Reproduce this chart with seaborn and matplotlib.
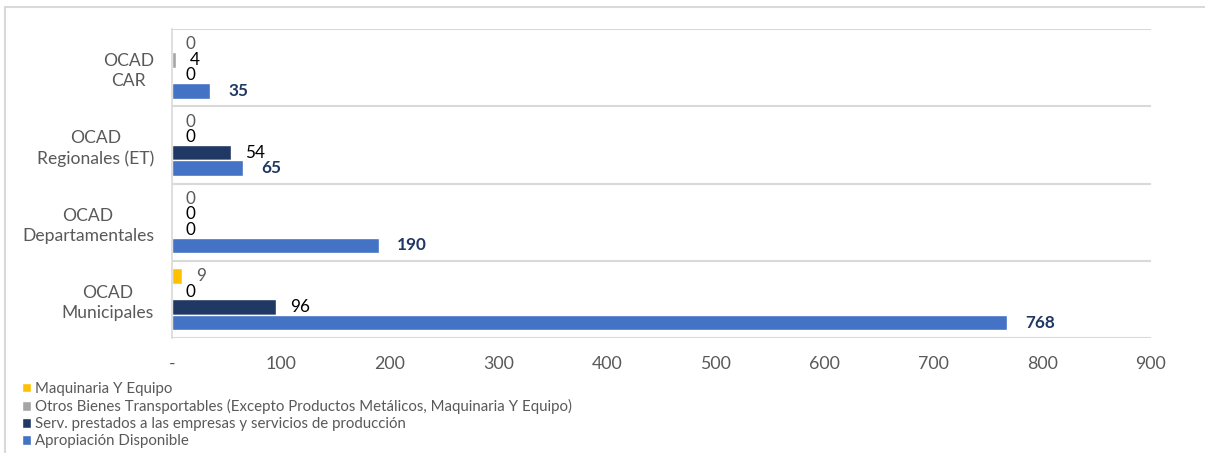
import matplotlib
matplotlib.use("Agg")
import matplotlib.pyplot as plt
import seaborn as sns
import pandas as pd
import numpy as np
from matplotlib.lines import Line2D
from matplotlib.ticker import FixedLocator, FuncFormatter

categories = ["OCAD\nCAR", "OCAD\nRegionales (ET)", "OCAD\nDepartamentales", "OCAD\nMunicipales"]
series = [
    "Maquinaria Y Equipo",
    "Otros Bienes Transportables (Excepto Productos Metálicos, Maquinaria Y Equipo)",
    "Serv. prestados a las empresas y servicios de producción",
    "Apropiación Disponible",
]
maquinaria = [0, 0, 0, 9]
otros = [4, 0, 0, 0]
serv = [0, 54, 0, 96]
apropiacion = [35, 65, 190, 768]
colors = ["#FFC000", "#A5A5A5", "#203864", "#4472C4"]
x_ticks = [0, 100, 200, 300, 400, 500, 600, 700, 800, 900]

values = [maquinaria, otros, serv, apropiacion]
rows = []
for s, vals in zip(series, values):
    for c, v in zip(categories, vals):
        rows.append({"cat": c, "serie": s, "valor": v})
df = pd.DataFrame(rows)

sns.set_style("white")
plt.rcParams["font.family"] = ["Lato", "DejaVu Sans"]

fig = plt.figure(figsize=(12.05, 4.53), dpi=100)
ax = fig.add_axes([172/1205, 1-338/453, (1151-172)/1205, (338-29)/453])

sns.barplot(data=df, y="cat", x="valor", hue="serie", order=categories,
            hue_order=series, palette=colors, orient="h", width=0.8,
            saturation=1, ax=ax, legend=True, errorbar=None)

label_colors = ["#595959", "#000000", "#000000", "#1F3864"]
for i, cont in enumerate(ax.containers):
    bold = (i == 3)
    ax.bar_label(cont, labels=[f"{v:g}" for v in cont.datavalues],
                 padding=13 if bold else 10, fontsize=12.3,
                 color=label_colors[i], fontweight="bold" if bold else "normal")

ax.set_xlim(0, 900)
ax.set_ylim(len(categories) - 0.5, -0.5)
ax.set_xticks(x_ticks)
ax.xaxis.set_major_formatter(FuncFormatter(lambda v, p: "-" if v == 0 else f"{v:.0f}"))
ax.yaxis.set_minor_locator(FixedLocator(np.arange(len(categories) + 1) - 0.5))
ax.grid(which="minor", axis="y", color="#D9D9D9", linewidth=1.5)
ax.grid(which="major", visible=False)
ax.set_axisbelow(True)
ax.tick_params(axis="x", colors="#595959", labelsize=12.8, length=0, pad=13)
ax.tick_params(axis="y", colors="#595959", labelsize=12.6, length=0, pad=13, which="both")
for lab in ax.get_yticklabels():
    lab.set_multialignment("center")
    lab.set_linespacing(1.32)
for sp in ["top", "right", "bottom"]:
    ax.spines[sp].set_visible(False)
ax.spines["left"].set_color("#D9D9D9")
ax.spines["left"].set_linewidth(1.2)
ax.set_xlabel("")
ax.set_ylabel("")

handles, labels = ax.get_legend_handles_labels()
ax.legend_.remove()
fig.legend(handles, labels, loc="upper left", bbox_to_anchor=(22/1205, 1-382/453),
           frameon=False, fontsize=10.8, labelcolor="#595959", handlelength=0.6,
           handleheight=0.6, handletextpad=0.25, labelspacing=0.2, borderpad=0,
           borderaxespad=0)

fig.add_artist(Line2D([5/1205, 1], [1-7/453, 1-7/453], color="#D9D9D9", lw=1.5,
                      transform=fig.transFigure))
fig.add_artist(Line2D([5/1205, 5/1205], [0, 1-7/453], color="#D9D9D9", lw=1.5,
                      transform=fig.transFigure))

fig.savefig("out.png", dpi=100)
